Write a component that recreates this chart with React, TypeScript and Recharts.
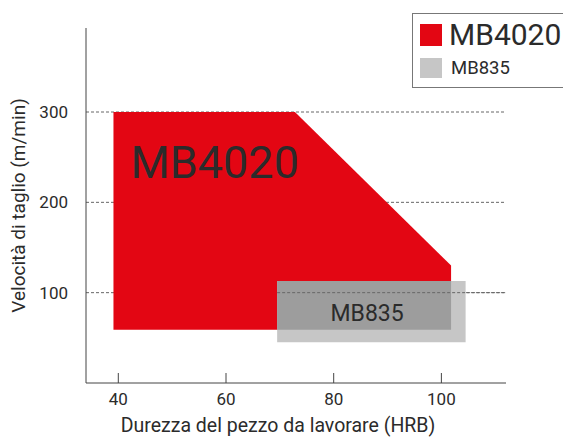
import React from "react";
import {
  ComposedChart,
  Area,
  XAxis,
  YAxis,
  CartesianGrid,
  ReferenceLine,
  ReferenceDot,
} from "recharts";

// MB4020 working field (hardness HRB vs cutting speed m/min)
const mb4020Field = [
  { hrb: 39.1, speed: [59, 300] },
  { hrb: 72.8, speed: [59, 300] },
  { hrb: 101.8, speed: [59, 130] },
];

// MB835 working field
const mb835Field = [
  { hrb: 69.5, speed: [45, 113] },
  { hrb: 104.5, speed: [45, 113] },
];

// where both fields overlap (drawn darker)
const overlapField = [
  { hrb: 69.5, speed: [59, 113] },
  { hrb: 101.8, speed: [59, 113] },
];

const xTicks = [40, 60, 80, 100];
const yTicks = [100, 200, 300];

const RED = "#e30613";
const LIGHT_GREY = "#c6c6c6";
const DARK_GREY = "#9d9d9d";
const INK = "#2b2b2b";
const GRID = "#666";
const FONT = "Roboto, sans-serif";

export default function App() {
  return (
    <div
      style={{
        position: "absolute",
        left: 0,
        top: 0,
        width: 563,
        height: 437,
        overflow: "hidden",
        background: "#fff",
        fontFamily: FONT,
      }}
    >
      <ComposedChart
        width={563}
        height={437}
        margin={{ top: 28, right: 57, bottom: 0, left: 0 }}
      >
        <CartesianGrid
          vertical={false}
          syncWithTicks
          stroke={GRID}
          strokeDasharray="3 2"
        />
        <XAxis
          type="number"
          dataKey="hrb"
          domain={[34, 112]}
          ticks={xTicks}
          height={54}
          allowDuplicatedCategory={false}
          stroke="#444"
          tickSize={-10}
          tickMargin={20}
          tick={{ fill: INK, fontSize: 17, fontFamily: FONT }}
          label={{
            value: "Durezza del pezzo da lavorare (HRB)",
            position: "insideBottom",
            offset: 5,
            dx: -18,
            style: { fill: INK, fontSize: 19.5, fontFamily: FONT },
          }}
        />
        <YAxis
          type="number"
          domain={[0, 393]}
          ticks={yTicks}
          width={86}
          stroke="#444"
          tickLine={false}
          tickSize={6}
          tickMargin={12}
          tick={{ fill: INK, fontSize: 17, fontFamily: FONT }}
          label={{
            value: "Velocità di taglio (m/min)",
            angle: -90,
            position: "insideLeft",
            offset: 18,
            style: {
              fill: INK,
              fontSize: 19,
              fontFamily: FONT,
              textAnchor: "middle",
            },
          }}
        />
        <Area
          data={mb4020Field}
          dataKey="speed"
          type="linear"
          stroke="none"
          fill={RED}
          fillOpacity={1}
          isAnimationActive={false}
        />
        <Area
          data={mb835Field}
          dataKey="speed"
          type="linear"
          stroke="none"
          fill={LIGHT_GREY}
          fillOpacity={1}
          isAnimationActive={false}
        />
        <Area
          data={overlapField}
          dataKey="speed"
          type="linear"
          stroke="none"
          fill={DARK_GREY}
          fillOpacity={1}
          isAnimationActive={false}
        />
        <ReferenceLine
          segment={[
            { x: 69.5, y: 100 },
            { x: 112, y: 100 },
          ]}
          stroke={GRID}
          strokeDasharray="3 2"
        />
        <ReferenceDot
          x={57.9}
          y={245}
          r={0}
          stroke="none"
          label={{
            value: "MB4020",
            position: "center",
            style: { fill: INK, fontSize: 45, fontFamily: FONT },
          }}
        />
        <ReferenceDot
          x={86.2}
          y={78}
          r={0}
          stroke="none"
          label={{
            value: "MB835",
            position: "center",
            style: { fill: INK, fontSize: 23, fontFamily: FONT },
          }}
        />
      </ComposedChart>

      <div
        style={{
          position: "absolute",
          left: 412,
          top: 13,
          width: 170,
          height: 73,
          border: "1px solid #777",
          background: "#fff",
          color: INK,
        }}
      >
        <div style={{ display: "flex", alignItems: "center", height: 42 }}>
          <span
            style={{
              display: "inline-block",
              width: 22,
              height: 22,
              background: RED,
              marginLeft: 7,
              marginRight: 7,
            }}
          />
          <span style={{ fontSize: 30, lineHeight: "30px" }}>MB4020</span>
        </div>
        <div style={{ display: "flex", alignItems: "center", height: 24 }}>
          <span
            style={{
              display: "inline-block",
              width: 22,
              height: 20,
              background: LIGHT_GREY,
              marginLeft: 7,
              marginRight: 9,
            }}
          />
          <span style={{ fontSize: 18.5, lineHeight: "20px" }}>MB835</span>
        </div>
      </div>
    </div>
  );
}
